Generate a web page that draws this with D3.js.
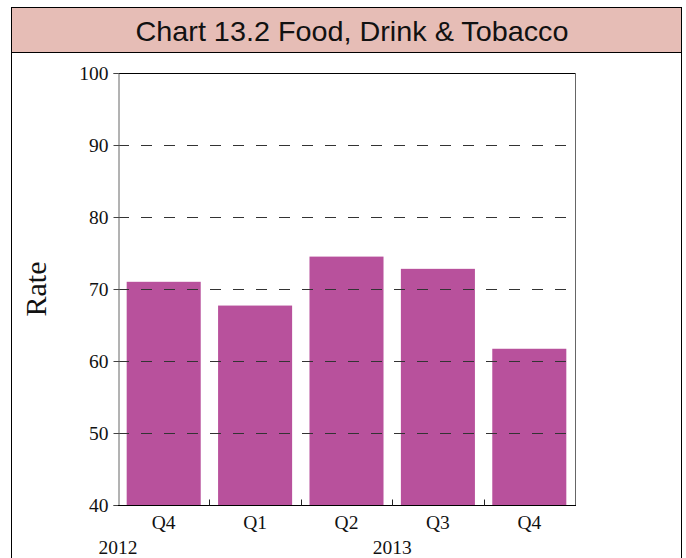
<!DOCTYPE html>
<html><head><meta charset="utf-8">
<script src="https://cdn.jsdelivr.net/npm/d3@7"></script>
<style>body{margin:0;background:#fff;} svg{display:block;}</style>
</head><body>
<script>
const quarters = ["Q4", "Q1", "Q2", "Q3", "Q4"];
const years = ["2012", "2013"];
const rates = [71.0, 67.7, 74.5, 72.8, 61.7];
const yTicks = [40, 50, 60, 70, 80, 90, 100];
const title = "Chart 13.2 Food, Drink & Tobacco";
const yLabel = "Rate";

const W = 686, H = 558;
const m = {left:118, right:575, top:73, bottom:505};
const svg = d3.select("body").append("svg").attr("width", W).attr("height", H);
const serif = "Liberation Serif, Times New Roman, serif";

// frame
svg.append("rect").attr("x", 11.5).attr("y", 7.5).attr("width", 670).attr("height", 560)
  .attr("fill", "#fff").attr("stroke", "#000").attr("stroke-width", 1);
svg.append("rect").attr("x", 11.5).attr("y", 7.5).attr("width", 670).attr("height", 45)
  .attr("fill", "#e6bdb6").attr("stroke", "#000").attr("stroke-width", 1);
svg.append("text").attr("x", 352).attr("y", 41).attr("text-anchor", "middle")
  .attr("font-family", "Liberation Sans, Arial, sans-serif").attr("font-size", 28.5)
  .attr("textLength", 433).attr("lengthAdjust", "spacingAndGlyphs")
  .attr("fill", "#111").text(title);

const idx = quarters.map((d, i) => i);
const x = d3.scaleBand().domain(idx).range([m.left, m.right]).paddingInner(0.19).paddingOuter(0.095);
const xb = d3.scaleBand().domain(idx).range([m.left, m.right]);
const y = d3.scaleLinear().domain([40, 100]).range([m.bottom, m.top]);

// bars
svg.append("g").selectAll("rect").data(rates).join("rect")
  .attr("x", (d, i) => x(i)).attr("width", x.bandwidth())
  .attr("y", d => y(d)).attr("height", d => y(40) - y(d))
  .attr("fill", "#b8519c");

// gridlines
svg.append("g").selectAll("line").data(yTicks.filter(t => t > 40 && t < 100)).join("line")
  .attr("x1", m.left).attr("x2", m.right)
  .attr("y1", d => Math.round(y(d)) + 0.5).attr("y2", d => Math.round(y(d)) + 0.5)
  .attr("stroke", "#333").attr("stroke-width", 1).attr("stroke-dasharray", "11,12");

// borders
svg.append("line").attr("x1", m.left).attr("x2", m.right).attr("y1", m.top + 0.5).attr("y2", m.top + 0.5)
  .attr("stroke", "#000");
svg.append("line").attr("x1", m.right + 0.5).attr("x2", m.right + 0.5).attr("y1", m.top).attr("y2", m.bottom)
  .attr("stroke", "#666");

// y axis
const yAxis = svg.append("g").attr("transform", `translate(${m.left + 0.5},0)`)
  .call(d3.axisLeft(y).tickValues(yTicks).tickSize(5).tickPadding(5));
yAxis.select(".domain").attr("stroke", "#666");
yAxis.selectAll(".tick line").attr("stroke", "#444");
yAxis.selectAll("text").attr("font-family", serif)
  .attr("font-size", 19.5).attr("fill", "#111");

// x axis
const xg = svg.append("g").attr("transform", `translate(0,${m.bottom + 0.5})`);
xg.append("line").attr("x1", m.left).attr("x2", m.right + 1).attr("stroke", "#000");
xg.selectAll("line.tk").data(idx.slice(1)).join("line").attr("class", "tk")
  .attr("x1", d => Math.round(xb(d)) + 0.5).attr("x2", d => Math.round(xb(d)) + 0.5)
  .attr("y1", 0).attr("y2", -6).attr("stroke", "#222");
xg.selectAll("text.q").data(quarters).join("text").attr("class", "q")
  .attr("x", (d, i) => xb(i) + xb.bandwidth() / 2).attr("y", 23)
  .attr("text-anchor", "middle").attr("font-family", serif)
  .attr("font-size", 19.5).attr("fill", "#111").text(d => d);
const yearPos = [m.left, (xb(1) + m.right) / 2];
xg.selectAll("text.yr").data(years).join("text").attr("class", "yr")
  .attr("x", (d, i) => yearPos[i]).attr("y", 48)
  .attr("text-anchor", "middle").attr("font-family", serif)
  .attr("font-size", 19.5).attr("fill", "#111").text(d => d);

// y label
svg.append("text").attr("transform", `translate(46,${(m.top + m.bottom) / 2}) rotate(-90)`)
  .attr("text-anchor", "middle").attr("font-family", serif)
  .attr("font-size", 30).attr("fill", "#111").text(yLabel);
</script>
</body></html>
